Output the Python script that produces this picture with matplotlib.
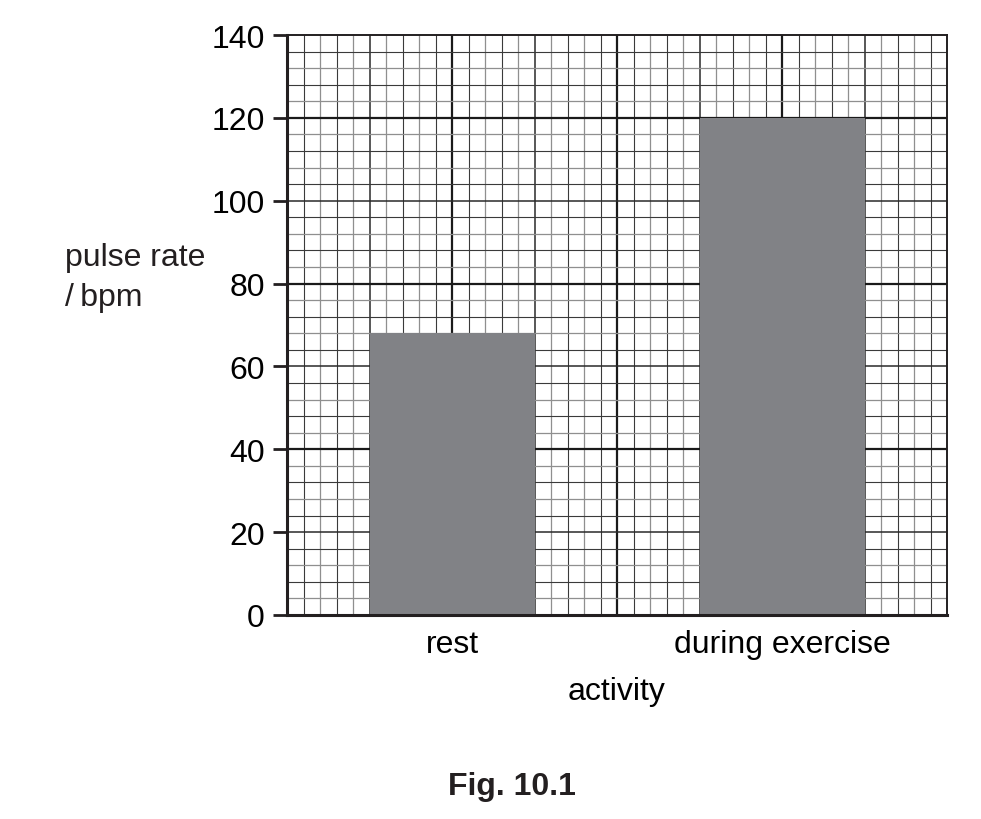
import matplotlib
matplotlib.use("Agg")
import matplotlib.pyplot as plt
import numpy as np

plt.rcParams["font.family"] = ["Liberation Sans", "DejaVu Sans"]

activities = ["rest", "during exercise"]
pulse_rate = [68, 120]
bar_pos = [1, 3]
y_ticks = [0, 20, 40, 60, 80, 100, 120, 140]

fig = plt.figure(figsize=(9.81, 8.2), dpi=100)
ax = fig.add_axes([287 / 981, 1 - 616 / 820, 660 / 981, 580 / 820])
ax.set_xlim(0, 4)
ax.set_ylim(0, 140)

# graph paper
for i in range(1, 40):
    x = i / 10
    if i % 10 == 0:
        ax.axvline(x, color="#1a1a1a", lw=1.6, zorder=1)
    elif i % 5 == 0:
        ax.axvline(x, color="#2a2a2a", lw=1.1, zorder=1)
    elif i % 2 == 1:
        ax.axvline(x, color="#3a3a3a", lw=0.8, zorder=1)
    else:
        ax.axvline(x, color="#8f8f8f", lw=0.9, zorder=1)
for i in range(1, 35):
    y = i * 4
    if i % 10 == 0:
        ax.axhline(y, color="#1a1a1a", lw=1.6, zorder=1)
    elif i % 5 == 0:
        ax.axhline(y, color="#2a2a2a", lw=1.1, zorder=1)
    elif i % 2 == 0:
        ax.axhline(y, color="#3a3a3a", lw=0.8, zorder=1)
    else:
        ax.axhline(y, color="#8f8f8f", lw=0.9, zorder=1)

ax.bar(bar_pos, pulse_rate, width=1.0, color="#818286", zorder=3)

ax.set_xticks(bar_pos)
ax.set_xticklabels(activities, fontsize=23)
ax.tick_params(axis="x", length=0, pad=10)
ax.set_yticks(y_ticks)
ax.set_yticklabels([str(v) for v in y_ticks], fontsize=23)
ax.tick_params(axis="y", length=10, width=2, color="#231f20", pad=6)

for side in ["left", "bottom"]:
    ax.spines[side].set_linewidth(2.2)
    ax.spines[side].set_color("#231f20")
for side in ["top", "right"]:
    ax.spines[side].set_linewidth(1.4)
    ax.spines[side].set_color("#231f20")
for s in ax.spines.values():
    s.set_zorder(5)

ax.set_xlabel("activity", fontsize=23, labelpad=12)
fig.text(65 / 981, 1 - 278 / 820, "pulse rate\n/\u2009bpm", fontsize=23,
         ha="left", va="center", linespacing=1.4, color="#231f20")
fig.text(512 / 981, 1 - 787 / 820, "Fig. 10.1", fontsize=23, fontweight="bold",
         ha="center", va="center", color="#231f20")

fig.savefig("out.png", dpi=100)
